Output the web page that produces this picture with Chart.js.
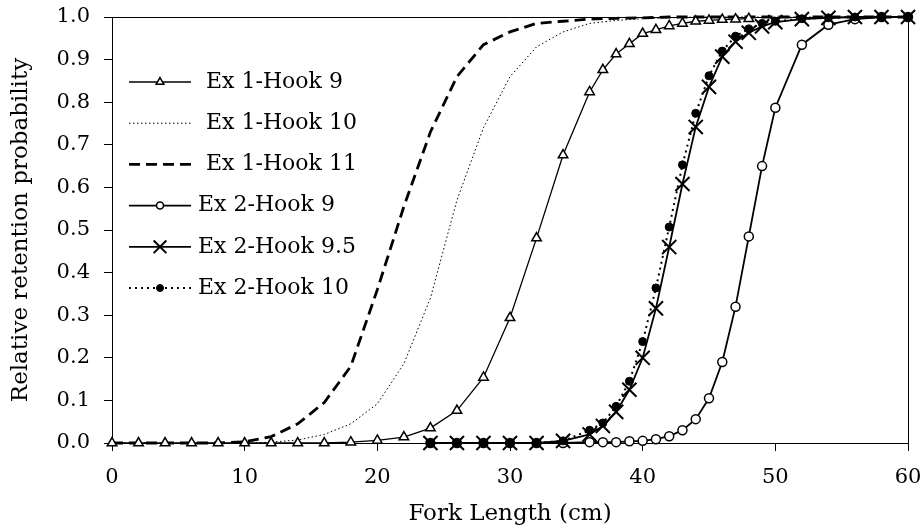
<!DOCTYPE html>
<html>
<head>
<meta charset="utf-8">
<script src="https://cdn.jsdelivr.net/npm/chart.js@4"></script>
<style>
  html, body { margin: 0; padding: 0; background: #fff; }
</style>
</head>
<body>
<canvas id="canvas" width="921" height="528"></canvas>
<script>
// fork length (cm) values for each experiment
const ex1X = [0, 2, 4, 6, 8, 10, 12, 14, 16, 18, 20, 22, 24, 26, 28, 30, 32, 34, 36, 38, 40, 42, 44, 46, 48, 50, 52, 54, 56, 58, 60];
const ex1Hook9X = [0, 2, 4, 6, 8, 10, 12, 14, 16, 18, 20, 22, 24, 26, 28, 30, 32, 34, 36, 37, 38, 39, 40, 41, 42, 43, 44, 45, 46, 47, 48];
const ex2X = [24, 26, 28, 30, 32, 34, 36, 37, 38, 39, 40, 41, 42, 43, 44, 45, 46, 47, 48, 49, 50, 52, 54, 56, 58, 60];

// retention probabilities
const ex1Hook9 = [0, 0, 0, 0, 0, 0, 0, 0, 0, 0.002, 0.006, 0.014, 0.035, 0.076, 0.154, 0.294, 0.481, 0.676, 0.824, 0.876, 0.913, 0.937, 0.961, 0.97, 0.979, 0.985, 0.99, 0.992, 0.994, 0.995, 0.996];
const ex1Hook10 = [0, 0, 0, 0, 0, 0, 0.002, 0.007, 0.02, 0.045, 0.092, 0.186, 0.34, 0.57, 0.74, 0.86, 0.93, 0.965, 0.985, 0.992, 0.996, 0.998, 1, 1, 1, 1, 1, 1, 1, 1, 1];
const ex1Hook11 = [0, 0, 0, 0, 0, 0.003, 0.015, 0.045, 0.095, 0.18, 0.36, 0.555, 0.73, 0.86, 0.935, 0.965, 0.985, 0.99, 0.995, 0.997, 0.998, 1, 1, 1, 1, 1, 1, 1, 1, 1, 1];
const ex2Hook9 = [0, 0, 0, 0, 0, 0, 0.002, 0.002, 0.002, 0.004, 0.005, 0.009, 0.016, 0.03, 0.056, 0.105, 0.19, 0.32, 0.485, 0.65, 0.787, 0.935, 0.982, 0.995, 1, 1];
const ex2Hook95 = [0, 0, 0, 0, 0, 0.005, 0.02, 0.04, 0.073, 0.125, 0.2, 0.316, 0.46, 0.608, 0.742, 0.836, 0.907, 0.942, 0.963, 0.978, 0.988, 0.995, 0.998, 1, 1, 1];
const ex2Hook10 = [0, 0, 0, 0, 0, 0.005, 0.03, 0.047, 0.086, 0.145, 0.238, 0.364, 0.507, 0.653, 0.774, 0.862, 0.92, 0.955, 0.972, 0.985, 0.99, 0.996, 0.998, 1, 1, 1];

const seriesLabels = ['Ex 1-Hook 9', 'Ex 1-Hook 10', 'Ex 1-Hook 11', 'Ex 2-Hook 9', 'Ex 2-Hook 9.5', 'Ex 2-Hook 10'];
const xTicks = [0, 10, 20, 30, 40, 50, 60];
const yTickLabels = ['0.0', '0.1', '0.2', '0.3', '0.4', '0.5', '0.6', '0.7', '0.8', '0.9', '1.0'];

const pts = (xs, ys) => xs.map((x, i) => ({x: x, y: ys[i]}));

Chart.defaults.font.family = '"DejaVu Serif", serif';
Chart.defaults.font.size = 23;
Chart.defaults.color = '#000';

// box round the plot (top and right side)
const framePlugin = {
  id: 'frame',
  beforeDatasetsDraw(chart) {
    const {ctx, chartArea: a} = chart;
    ctx.save();
    ctx.strokeStyle = '#000';
    ctx.lineWidth = 1;
    ctx.beginPath();
    ctx.moveTo(a.left, a.top + 0.5);
    ctx.lineTo(a.right + 0.5, a.top + 0.5);
    ctx.lineTo(a.right + 0.5, a.bottom);
    ctx.stroke();
    ctx.restore();
  }
};

// legend drawn inside the plot, upper left
const legendPlugin = {
  id: 'insideLegend',
  afterDraw(chart) {
    const {ctx, chartArea: a} = chart;
    chart.data.datasets.forEach((ds, i) => {
      const y = a.top + 65 + i * 41.2;
      const x0 = a.left + 17, x1 = a.left + 79;
      ctx.save();
      ctx.strokeStyle = '#000';
      ctx.lineWidth = ds.borderWidth;
      ctx.setLineDash(ds.borderDash || []);
      ctx.beginPath();
      ctx.moveTo(x0, y);
      ctx.lineTo(x1, y);
      ctx.stroke();
      ctx.setLineDash([]);
      if (ds.pointRadius > 0) {
        ctx.fillStyle = ds.pointBackgroundColor;
        ctx.strokeStyle = '#000';
        ctx.lineWidth = ds.pointBorderWidth;
        Chart.helpers.drawPoint(ctx, {
          pointStyle: ds.pointStyle, rotation: 0,
          radius: ds.legendRadius, borderWidth: ds.pointBorderWidth
        }, (x0 + x1) / 2, y);
      }
      ctx.fillStyle = '#000';
      ctx.font = '22px "DejaVu Serif"';
      ctx.textBaseline = 'middle';
      ctx.fillText(ds.label, a.left + (i < 3 ? 94 : 86), y);
      ctx.restore();
    });
  }
};

const ctx = document.getElementById('canvas').getContext('2d');
const myChart = new Chart(ctx, {
  type: 'scatter',
  data: {
    datasets: [{
      label: seriesLabels[0],
      data: pts(ex1Hook9X, ex1Hook9),
      showLine: true, borderColor: '#000', borderWidth: 1.3,
      pointStyle: 'triangle', pointRadius: 5.5, legendRadius: 4.5,
      pointBackgroundColor: '#fff', pointBorderColor: '#000', pointBorderWidth: 1.5,
      clip: false
    }, {
      label: seriesLabels[1],
      data: pts(ex1X, ex1Hook10),
      showLine: true, borderColor: '#000', borderWidth: 1, borderDash: [1.5, 2.5],
      pointRadius: 0, clip: false
    }, {
      label: seriesLabels[2],
      data: pts(ex1X, ex1Hook11),
      showLine: true, borderColor: '#000', borderWidth: 2.8, borderDash: [11, 6],
      pointRadius: 0, clip: false
    }, {
      label: seriesLabels[3],
      data: pts(ex2X, ex2Hook9),
      showLine: true, borderColor: '#000', borderWidth: 1.8,
      pointStyle: 'circle', pointRadius: 4.5, legendRadius: 3.5,
      pointBackgroundColor: '#fff', pointBorderColor: '#000', pointBorderWidth: 1.5,
      clip: false, order: 10
    }, {
      label: seriesLabels[4],
      data: pts(ex2X, ex2Hook95),
      showLine: true, borderColor: '#000', borderWidth: 1.8,
      pointStyle: 'crossRot', pointRadius: 10, legendRadius: 9,
      pointBackgroundColor: '#000', pointBorderColor: '#000', pointBorderWidth: 2,
      clip: false
    }, {
      label: seriesLabels[5],
      data: pts(ex2X, ex2Hook10),
      showLine: true, borderColor: '#000', borderWidth: 2, borderDash: [2, 4],
      pointStyle: 'circle', pointRadius: 4, legendRadius: 3.5,
      pointBackgroundColor: '#000', pointBorderColor: '#000', pointBorderWidth: 1,
      clip: false
    }]
  },
  options: {
    responsive: false,
    animation: false,
    layout: { padding: { top: 17, right: 13, left: 0, bottom: 0 } },
    elements: { line: { tension: 0 } },
    plugins: {
      legend: { display: false },
      tooltip: { enabled: false }
    },
    scales: {
      x: {
        type: 'linear', min: 0, max: 60,
        afterBuildTicks: s => { s.ticks = xTicks.map(v => ({value: v})); },
        afterFit: s => { s.height = 85; s.paddingLeft = 0; s.paddingRight = 0; },
        ticks: { padding: 14, color: '#000', font: { size: 21 } },
        grid: { drawOnChartArea: false, drawTicks: true, tickLength: 8, color: '#000' },
        border: { color: '#000', width: 1 },
        title: { display: true, text: 'Fork Length (cm)', color: '#000', padding: { top: 0, bottom: 0 } }
      },
      y: {
        min: 0, max: 1,
        afterBuildTicks: s => { s.ticks = yTickLabels.map((t, i) => ({value: i / 10})); },
        afterFit: s => { s.width = 112; s.paddingTop = 0; s.paddingBottom = 0; },
        ticks: { padding: 14, color: '#000', font: { size: 21 }, callback: (v, i) => yTickLabels[i] },
        grid: { drawOnChartArea: false, drawTicks: true, tickLength: 8, color: '#000' },
        border: { color: '#000', width: 1 },
        title: { display: true, text: 'Relative retention probability', color: '#000', padding: { top: 7, bottom: 0 } }
      }
    }
  },
  plugins: [framePlugin, legendPlugin]
});
</script>
</body>
</html>
